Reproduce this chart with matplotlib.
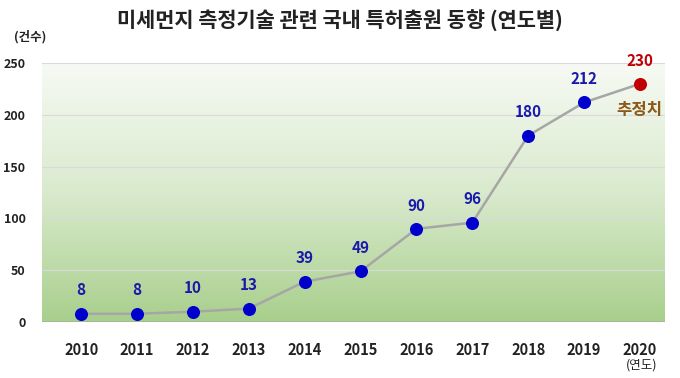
import numpy as np
import matplotlib
matplotlib.use("Agg")
import matplotlib.pyplot as plt
from matplotlib.colors import LinearSegmentedColormap

plt.rcParams['font.family'] = ['Noto Sans CJK KR', 'DejaVu Sans']

years = [2010, 2011, 2012, 2013, 2014, 2015, 2016, 2017, 2018, 2019, 2020]
counts = [8, 8, 10, 13, 39, 49, 90, 96, 180, 212, 230]
yticks = [0, 50, 100, 150, 200, 250]
title = "미세먼지 측정기술 관련 국내 특허출원 동향 (연도별)"
ylabel = "(건수)"
xlabel = "(연도)"
estimate_label = "추정치"

fig = plt.figure(figsize=(6.8, 3.78), dpi=100)
ax = fig.add_axes([0.062, 0.148, 0.916, 0.685])
xmin, xmax = 2009.3, 2020.45
ax.set_xlim(xmin, xmax)
ax.set_ylim(0, 250)

# gradient background (white at top, green at bottom)
cmap = LinearSegmentedColormap.from_list("g", ["#f7faf4", "#d9eacd", "#a8cf8c"])
grad = np.linspace(0, 1, 256).reshape(-1, 1)
ax.imshow(grad, aspect='auto', cmap=cmap, extent=[xmin, xmax, 0, 250],
          origin='upper', zorder=0)

for t in yticks[1:]:
    ax.axhline(t, color="#d9d9d9", lw=0.8, zorder=1)
ax.axhline(0, color="#9fb890", lw=1.2, zorder=1)

ax.plot(years, counts, color="#a6a6a6", lw=1.8, zorder=2)
ax.scatter(years[:-1], counts[:-1], s=70, color="#0000cc", zorder=3)
ax.scatter(years[-1:], counts[-1:], s=70, color="#c00000", zorder=3)

for x, y in zip(years, counts):
    col = "#c00000" if x == years[-1] else "#1a1aaa"
    ax.annotate(str(y), (x, y), xytext=(0, 11), textcoords="offset points",
                ha="center", va="bottom", fontsize=11, fontweight="bold", color=col)

ax.annotate(estimate_label, (years[-1], counts[-1]), xytext=(0, -12), textcoords="offset points",
            ha="center", va="top", fontsize=12, fontweight="bold", color="#8b5a1a")

for s in ax.spines.values():
    s.set_visible(False)
ax.set_xticks(years)
ax.set_xticklabels([str(y) for y in years], fontsize=10.5, fontweight="bold", color="#222222")
ax.set_yticks(yticks)
ax.set_yticklabels([str(t) for t in yticks], fontsize=9, fontweight="bold", color="#222222")
ax.tick_params(length=0)
ax.tick_params(axis='x', pad=14)
ax.tick_params(axis='y', pad=12)

fig.text(0.5, 0.945, title, ha="center", va="center", fontsize=15, fontweight="bold", color="#222222")
fig.text(0.044, 0.902, ylabel, ha="center", va="center", fontsize=9, fontweight="bold", color="#222222")
fig.text(0.943, 0.034, xlabel, ha="center", va="center", fontsize=9, color="#222222")

fig.savefig("out.png", dpi=100)
